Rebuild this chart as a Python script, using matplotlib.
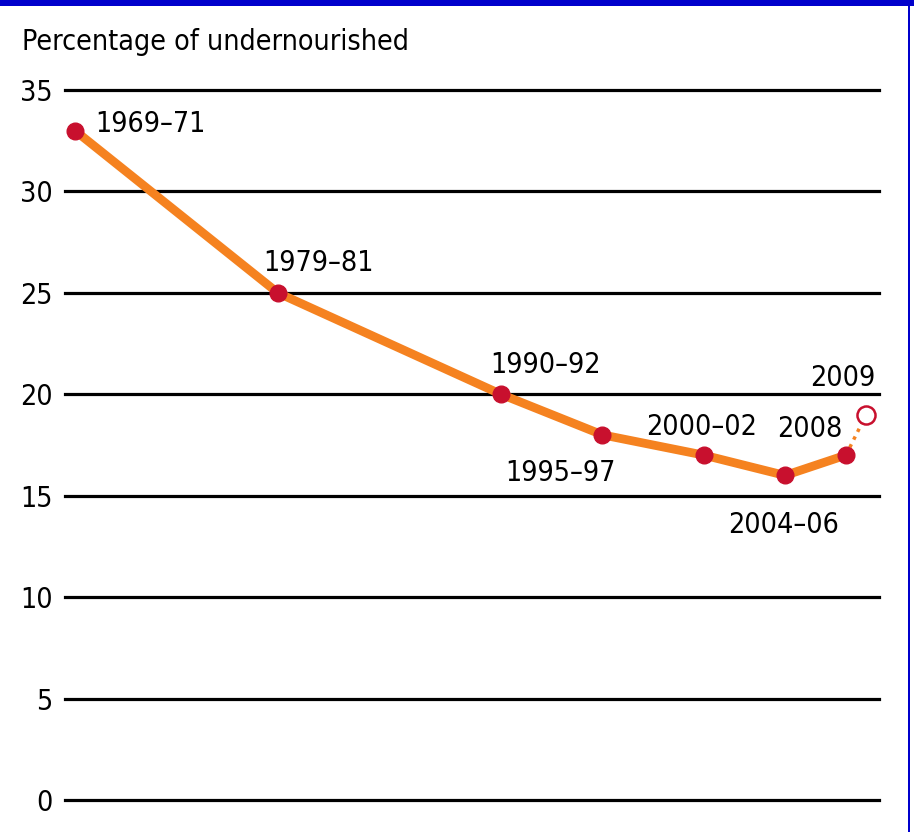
import matplotlib
matplotlib.use("Agg")
import matplotlib.pyplot as plt
from matplotlib.patches import Rectangle

# data
periods = ["1969–71", "1979–81", "1990–92", "1995–97", "2000–02", "2004–06", "2008", "2009"]
mid_years = [1970, 1980, 1991, 1996, 2001, 2005, 2008, 2009]
pct_undernourished = [33, 25, 20, 18, 17, 16, 17, 19]
y_ticks = [0, 5, 10, 15, 20, 25, 30, 35]

ORANGE = "#F58220"
RED = "#C8102E"
BLUE = "#0000CC"

plt.rcParams["font.family"] = ["DejaVu Sans"]
plt.rcParams["font.stretch"] = "condensed"
FS = 20.5

# label placement: (dx, dy) in pixels from the point, horizontal alignment
label_offsets = [
    (20, -1, "left"),
    (41, 22, "center"),
    (44, 21, "center"),
    (-42, -46, "center"),
    (-2, 20, "center"),
    (-1, -58, "center"),
    (-36, 18, "center"),
    (-23, 29, "center"),
]

W, H = 914, 832
fig = plt.figure(figsize=(W / 100, H / 100), dpi=100)
fig.patch.set_facecolor("white")

left, right, bottom, top = 65, 879, 800, 90
ax = fig.add_axes([left / W, 1 - bottom / H, (right - left) / W, (bottom - top) / H])
ax.set_xlim(1969.51, 2009.63)
ax.set_ylim(0, 35)

for v in y_ticks:
    ax.axhline(v, color="black", linewidth=2.3, zorder=1, clip_on=False)

ax.set_yticks(y_ticks)
ax.set_yticklabels([str(v) for v in y_ticks], fontsize=FS)
ax.tick_params(axis="y", length=0, pad=9)
ax.set_xticks([])
for s in ax.spines.values():
    s.set_visible(False)

# solid series up to 2008, dotted projection to 2009
ax.plot(mid_years[:-1], pct_undernourished[:-1], color=ORANGE, linewidth=6.3,
        solid_capstyle="round", zorder=2, clip_on=False)
ax.plot(mid_years[-2:], pct_undernourished[-2:], color=ORANGE, linewidth=2.5,
        linestyle=(0, (1, 1.5)), zorder=2, clip_on=False)
ax.plot(mid_years[:-1], pct_undernourished[:-1], linestyle="none", marker="o",
        markersize=12, markerfacecolor=RED, markeredgecolor=RED, zorder=3, clip_on=False)
ax.plot(mid_years[-1:], pct_undernourished[-1:], linestyle="none", marker="o",
        markersize=13, markerfacecolor="white", markeredgecolor=RED,
        markeredgewidth=1.8, zorder=3, clip_on=False)

for lab, x, y, (dx, dy, ha) in zip(periods, mid_years, pct_undernourished, label_offsets):
    ax.annotate(lab, (x, y), xytext=(dx, dy), textcoords="offset pixels",
                ha=ha, va="baseline", fontsize=FS, color="black")

fig.text(22 / W, 1 - 50 / H, "Percentage of undernourished", fontsize=FS,
         ha="left", va="baseline", color="black")

# frame of the original graphic
fig.patches.append(Rectangle((0, 1 - 6 / H), 1, 6 / H, transform=fig.transFigure,
                             facecolor=BLUE, edgecolor="none"))
fig.patches.append(Rectangle((908 / W, 0), 2 / W, 1, transform=fig.transFigure,
                             facecolor=BLUE, edgecolor="none"))

fig.savefig("out.png", dpi=100)
